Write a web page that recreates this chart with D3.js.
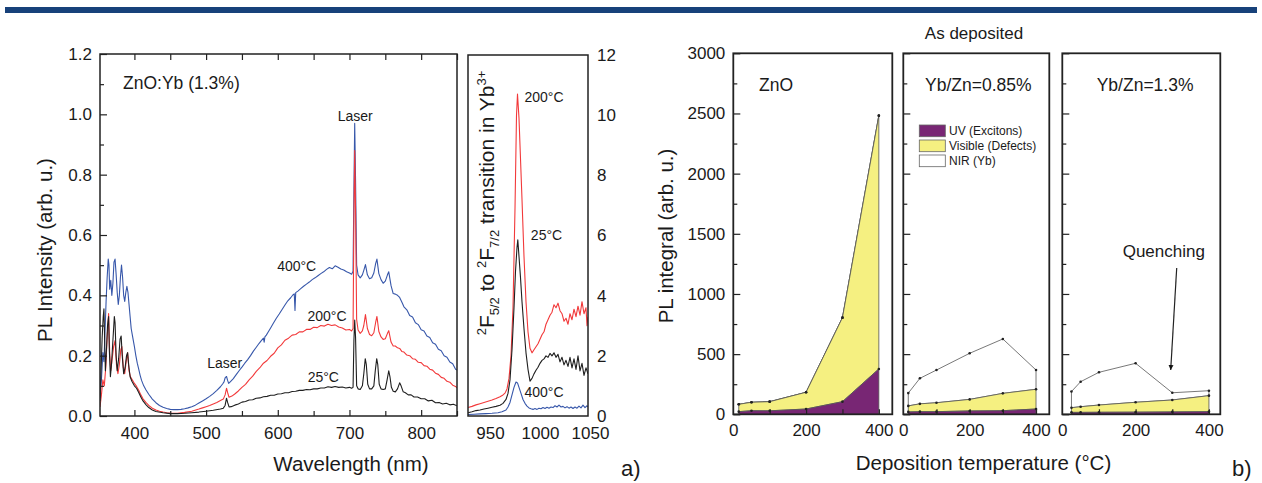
<!DOCTYPE html>
<html>
<head>
<meta charset="utf-8">
<script src="https://cdn.jsdelivr.net/npm/d3@7"></script>
<style>
  body { margin: 0; background: #fff; }
  svg { display: block; font-family: "Liberation Sans", Arial, sans-serif; }
</style>
</head>
<body>
<svg id="chart" width="1262" height="483"></svg>
<script>
// ---------- Panel a: PL spectra (wavelength nm, intensity arb. u.) ----------
const spec400 = [[352,0.06],[354,0.12],[356,0.21],[357.5,0.18],[359,0.28],[360.5,0.38],[362,0.46],[363.5,0.52],[364.5,0.5],[365.5,0.42],[367,0.45],[368.5,0.4],[370,0.44],[371.5,0.51],[373,0.52],[374.5,0.47],[376,0.41],[377.5,0.37],[379,0.4],[380.5,0.46],[382,0.5],[383.5,0.46],[385,0.4],[386.5,0.38],[388,0.41],[389.5,0.43],[391,0.41],[392.5,0.37],[394,0.33],[395.5,0.29],[397,0.27],[398.5,0.25],[400,0.23],[402,0.2],[404,0.175],[406,0.155],[408,0.135],[410,0.118],[413,0.1],[416,0.087],[420,0.072],[425,0.056],[430,0.044],[435,0.035],[440,0.029],[445,0.025],[450,0.022],[455,0.021],[460,0.021],[465,0.022],[470,0.024],[475,0.027],[480,0.031],[485,0.036],[490,0.043],[495,0.05],[500,0.057],[505,0.065],[510,0.074],[515,0.085],[520,0.097],[523,0.106],[525,0.113],[526.5,0.126],[528.5,0.131],[530,0.118],[531.5,0.108],[534,0.114],[538,0.124],[542,0.137],[546,0.15],[550,0.162],[554,0.175],[558,0.187],[562,0.2],[566,0.215],[570,0.228],[574,0.241],[577,0.25],[580,0.258],[581,0.245],[582,0.262],[584,0.268],[586,0.276],[590,0.292],[594,0.308],[598,0.324],[602,0.338],[606,0.353],[610,0.368],[614,0.382],[618,0.392],[621,0.401],[623,0.405],[624,0.35],[625,0.409],[628,0.414],[632,0.422],[636,0.43],[640,0.437],[644,0.444],[648,0.452],[652,0.458],[656,0.465],[660,0.472],[664,0.478],[668,0.486],[672,0.492],[676,0.488],[680,0.498],[684,0.493],[688,0.487],[692,0.484],[696,0.478],[700,0.474],[703,0.47],[705,0.48],[706.2,0.75],[707.3,0.97],[708.5,0.78],[710,0.5],[712,0.468],[715,0.458],[718,0.468],[720,0.483],[722.3,0.502],[725,0.468],[728,0.455],[731,0.458],[734,0.474],[736.5,0.505],[738.3,0.52],[741,0.472],[744,0.452],[747,0.44],[750,0.447],[753,0.468],[754.8,0.478],[758,0.432],[761,0.406],[764,0.404],[767,0.4],[770,0.393],[773,0.378],[776,0.362],[780,0.352],[784,0.333],[788,0.328],[792,0.309],[796,0.303],[800,0.286],[804,0.282],[808,0.265],[812,0.26],[816,0.243],[820,0.238],[824,0.221],[828,0.216],[832,0.2],[836,0.195],[840,0.179],[844,0.173],[848,0.155],[850,0.152]];

const spec200 = [[352,0.03],[354,0.07],[356,0.12],[358,0.1],[360,0.16],[362,0.26],[364,0.34],[365.5,0.21],[367,0.15],[369,0.19],[371,0.23],[373,0.25],[375,0.17],[377,0.14],[379,0.17],[381,0.22],[382.5,0.23],[384.5,0.16],[386.5,0.14],[388.5,0.18],[390.5,0.21],[392.5,0.15],[394.5,0.13],[397,0.12],[400,0.108],[403,0.098],[406,0.085],[409,0.07],[412,0.057],[416,0.045],[420,0.035],[425,0.026],[430,0.02],[435,0.016],[440,0.013],[445,0.011],[450,0.01],[460,0.009],[470,0.012],[480,0.016],[490,0.023],[495,0.027],[500,0.031],[505,0.035],[510,0.04],[515,0.045],[520,0.051],[524,0.056],[526.5,0.07],[528.5,0.092],[530,0.078],[532,0.062],[536,0.066],[540,0.073],[545,0.083],[550,0.095],[555,0.105],[560,0.12],[565,0.132],[570,0.148],[575,0.16],[580,0.175],[585,0.184],[590,0.198],[595,0.208],[600,0.226],[605,0.236],[610,0.251],[615,0.258],[620,0.268],[625,0.27],[630,0.279],[635,0.279],[640,0.287],[645,0.287],[650,0.294],[655,0.293],[660,0.3],[665,0.298],[670,0.304],[675,0.3],[680,0.302],[685,0.295],[690,0.292],[695,0.285],[700,0.287],[703,0.282],[705,0.29],[706.2,0.65],[707.3,0.88],[708.5,0.68],[710,0.32],[712,0.285],[715,0.274],[718,0.282],[720,0.3],[722.3,0.336],[725,0.29],[728,0.27],[731,0.266],[734,0.276],[736.5,0.31],[738.3,0.33],[741,0.28],[744,0.262],[747,0.254],[750,0.256],[753,0.274],[754.8,0.283],[758,0.245],[761,0.232],[764,0.232],[767,0.226],[770,0.224],[773,0.214],[776,0.212],[780,0.202],[784,0.2],[788,0.19],[792,0.188],[796,0.178],[800,0.177],[804,0.167],[808,0.165],[812,0.155],[816,0.152],[820,0.142],[824,0.138],[828,0.128],[832,0.125],[836,0.115],[840,0.112],[844,0.102],[848,0.098],[850,0.093]];

const spec25 = [[352,0.05],[353.5,0.15],[355,0.26],[356.5,0.33],[357.5,0.355],[358.5,0.25],[359.5,0.15],[361,0.22],[362.5,0.3],[364,0.33],[365,0.22],[366.5,0.13],[368,0.17],[370,0.25],[372,0.33],[373,0.31],[374.5,0.2],[376,0.15],[378,0.19],[380,0.255],[381.5,0.265],[383,0.2],[385,0.14],[387,0.16],[389,0.2],[390.5,0.21],[392,0.17],[394,0.13],[396.5,0.115],[400,0.1],[403,0.092],[406,0.078],[409,0.063],[412,0.05],[416,0.038],[420,0.028],[425,0.02],[430,0.015],[440,0.011],[450,0.008],[460,0.008],[470,0.009],[480,0.011],[490,0.013],[500,0.016],[510,0.019],[520,0.023],[524,0.026],[526.5,0.035],[528.5,0.059],[530,0.045],[532,0.03],[535,0.031],[540,0.036],[545,0.04],[550,0.046],[555,0.048],[560,0.053],[565,0.054],[570,0.059],[575,0.06],[580,0.064],[585,0.065],[590,0.069],[595,0.069],[600,0.073],[605,0.074],[610,0.077],[615,0.077],[620,0.081],[625,0.082],[630,0.085],[635,0.085],[640,0.088],[645,0.087],[650,0.09],[655,0.09],[660,0.093],[665,0.093],[670,0.097],[675,0.095],[680,0.098],[685,0.095],[690,0.096],[695,0.093],[700,0.095],[703,0.092],[705,0.095],[706.2,0.25],[707.3,0.318],[708.5,0.26],[710,0.1],[712,0.09],[715,0.088],[718,0.1],[720,0.14],[722,0.19],[723.5,0.17],[725.5,0.105],[728,0.09],[731,0.09],[734,0.1],[736,0.15],[738,0.19],[739.5,0.17],[741.5,0.105],[744,0.09],[747,0.088],[750,0.09],[752.5,0.12],[754.8,0.15],[756.5,0.13],[758.5,0.095],[761,0.082],[764,0.08],[767,0.09],[770,0.11],[772,0.1],[775,0.08],[778,0.077],[782,0.07],[786,0.07],[790,0.063],[795,0.063],[800,0.057],[805,0.057],[810,0.05],[815,0.052],[820,0.044],[825,0.045],[830,0.04],[835,0.042],[840,0.037],[845,0.039],[850,0.034]];

// ---------- Panel a, inset: 2F5/2 -> 2F7/2 emission of Yb3+ ----------
const nir200 = [[928,0.28],[932,0.32],[936,0.37],[940,0.41],[944,0.45],[948,0.49],[952,0.53],[956,0.58],[960,0.64],[963,0.7],[965,0.76],[967,0.9],[969,1.25],[971,2.0],[973,3.6],[975,6.9],[976.5,10.0],[977.5,10.7],[979,9.9],[980,9.0],[982,7.2],[984,5.3],[986,3.8],[988,2.8],[990,2.25],[992,2.1],[994,2.2],[996,2.3],[998,2.4],[1000,2.55],[1002,2.7],[1004,2.8],[1006,3.05],[1008,3.2],[1010,3.35],[1012,3.45],[1014,3.7],[1016,3.6],[1018,3.75],[1020,3.5],[1022,3.4],[1024,3.15],[1026,3.25],[1028,3.05],[1030,3.4],[1032,3.2],[1034,3.55],[1036,3.3],[1038,3.65],[1040,3.35],[1042,3.8],[1044,3.4],[1046,3.6],[1047,3.0],[1048,3.3]];
const nir25 = [[928,0.11],[932,0.14],[936,0.18],[940,0.2],[944,0.23],[948,0.26],[952,0.29],[956,0.32],[960,0.36],[963,0.42],[966,0.55],[968,0.75],[970,1.2],[972,2.2],[974,3.6],[975.5,4.8],[977,5.6],[977.8,5.86],[979,5.3],[980.5,4.6],[982,3.8],[984,2.9],[986,2.1],[988,1.55],[990,1.16],[992,1.25],[994,1.4],[996,1.52],[998,1.62],[1000,1.75],[1002,1.85],[1004,1.9],[1006,2.0],[1008,1.95],[1010,2.08],[1012,2.0],[1014,2.1],[1016,1.95],[1018,2.05],[1020,1.8],[1022,1.95],[1024,1.7],[1026,1.85],[1028,1.65],[1030,1.95],[1032,1.6],[1034,1.9],[1036,1.55],[1038,2.0],[1040,1.5],[1042,1.75],[1044,1.35],[1046,1.6],[1048,1.4]];
const nir400 = [[928,0.05],[934,0.06],[940,0.07],[946,0.08],[952,0.09],[958,0.11],[962,0.14],[966,0.2],[968,0.3],[970,0.45],[972,0.7],[974,0.95],[976,1.13],[977.5,1.1],[979,0.95],[981,0.75],[983,0.55],[985,0.42],[987,0.33],[989,0.27],[991,0.24],[993,0.22],[995,0.25],[997,0.22],[999,0.26],[1001,0.24],[1003,0.28],[1005,0.25],[1007,0.29],[1009,0.26],[1011,0.3],[1013,0.28],[1015,0.34],[1017,0.3],[1019,0.36],[1021,0.3],[1023,0.32],[1025,0.27],[1027,0.31],[1029,0.26],[1031,0.3],[1033,0.25],[1035,0.3],[1037,0.26],[1039,0.33],[1041,0.27],[1043,0.36],[1045,0.28],[1047,0.34],[1048,0.3]];

// tick labels, panel a
const wlTicks = [400, 500, 600, 700, 800];
const intensityTicks = [0, 0.2, 0.4, 0.6, 0.8, 1.0, 1.2];
const nirWlTicks = [950, 1000, 1050];
const nirIntensityTicks = [0, 2, 4, 6, 8, 10, 12];

// ---------- Panel b: integrated PL vs deposition temperature ----------
const tempZnO = [15, 50, 100, 200, 300, 400];
const uvZnO   = [22, 30, 29, 44, 105, 377];
const visZnO  = [61, 70, 76, 139, 698, 2105];
const nirZnO  = [0, 0, 0, 0, 0, 0];

const temp085 = [15, 50, 100, 200, 300, 400];
const uv085   = [20, 22, 22, 28, 30, 44];
const vis085  = [50, 65, 74, 96, 144, 164];
const nir085  = [106, 212, 272, 383, 452, 160];

const temp13 = [25, 50, 100, 200, 300, 400];
const uv13   = [16, 16, 17, 18, 20, 22];
const vis13  = [39, 47, 60, 82, 99, 133];
const nir13  = [134, 208, 272, 324, 60, 41];

const integralTicks = [0, 500, 1000, 1500, 2000, 2500, 3000];
const tempTicks = [0, 200, 400];
const legendLabels = ["UV (Excitons)", "Visible (Defects)", "NIR (Yb)"];

// ---------- drawing ----------
const FONT = '"Liberation Sans", Arial, sans-serif';
const INK = "#1a1a1a";
const svg = d3.select("#chart");
const defs = svg.append("defs");

// header rule
svg.append("rect").attr("x", 5).attr("y", 7).attr("width", 1252).attr("height", 6).attr("fill", "#17417a");

function styleAxis(g, size) {
  g.select("path.domain").remove();
  g.selectAll("line").attr("stroke", "#222").attr("stroke-width", 1.2);
  g.selectAll("text").attr("font-size", size || 17).attr("font-family", FONT).attr("fill", INK);
}
function clip(id, x0, y0, x1, y1) {
  defs.append("clipPath").attr("id", id).append("rect")
    .attr("x", x0).attr("y", y0).attr("width", x1 - x0).attr("height", y1 - y0);
}
function label(x, y, txt, size, anchor) {
  return svg.append("text").attr("x", x).attr("y", y).attr("font-size", size)
    .attr("font-family", FONT).attr("fill", INK).attr("text-anchor", anchor || "start").text(txt);
}

// ----- panel a, main spectra -----
const A = { x0: 100, x1: 457, y0: 54, y1: 416 };
const xA = d3.scaleLinear().domain([352, 850]).range([A.x0, A.x1]);
const yA = d3.scaleLinear().domain([0, 1.2]).range([A.y1, A.y0]);
clip("clipA", A.x0, A.y0, A.x1, A.y1);

const lineA = d3.line().x(d => xA(d[0])).y(d => yA(d[1]));
const gA = svg.append("g").attr("clip-path", "url(#clipA)");
[[spec400, "#3757aa"], [spec200, "#f2393a"], [spec25, "#1f1f1f"]].forEach(([s, c]) => {
  gA.append("path").datum(s).attr("d", lineA).attr("fill", "none")
    .attr("stroke", c).attr("stroke-width", 1.1).attr("stroke-linejoin", "round");
});

const minorWl = d3.range(400, 851, 50);
svg.append("g").attr("transform", `translate(0,${A.y1})`)
  .call(d3.axisBottom(xA).tickValues(wlTicks).tickSizeInner(-6).tickSizeOuter(0).tickPadding(10.6))
  .call(g => styleAxis(g));
svg.append("g").attr("transform", `translate(0,${A.y1})`)
  .call(d3.axisBottom(xA).tickValues(minorWl.filter(v => v % 100 !== 0)).tickSizeInner(-5).tickSizeOuter(0).tickFormat(""))
  .call(g => styleAxis(g));
svg.append("g").attr("transform", `translate(0,${A.y0})`)
  .call(d3.axisTop(xA).tickValues(minorWl).tickSizeInner(-6).tickSizeOuter(0).tickFormat(""))
  .call(g => styleAxis(g));
svg.append("g").attr("transform", `translate(${A.x0},0)`)
  .call(d3.axisLeft(yA).tickValues(intensityTicks).tickSizeInner(-7).tickSizeOuter(0).tickPadding(8).tickFormat(d3.format(".1f")))
  .call(g => styleAxis(g));
svg.append("g").attr("transform", `translate(${A.x0},0)`)
  .call(d3.axisLeft(yA).tickValues([0.1, 0.3, 0.5, 0.7, 0.9, 1.1]).tickSizeInner(-4).tickSizeOuter(0).tickFormat(""))
  .call(g => styleAxis(g));
svg.append("rect").attr("x", A.x0).attr("y", A.y0).attr("width", A.x1 - A.x0).attr("height", A.y1 - A.y0)
  .attr("fill", "none").attr("stroke", "#222").attr("stroke-width", 1.5);

label(123, 89, "ZnO:Yb (1.3%)", 17.5);
label(xA(708), 120.5, "Laser", 14, "middle");
label(xA(526), 368, "Laser", 14, "middle");
label(296.7, 270.5, "400°C", 14, "middle");
label(327, 320.5, "200°C", 14, "middle");
label(323.3, 382, "25°C", 14, "middle");
label(351, 471, "Wavelength (nm)", 20.5, "middle");
svg.append("text").attr("transform", "translate(52,250) rotate(-90)")
  .attr("text-anchor", "middle").attr("font-size", 20.5).attr("font-family", FONT).attr("fill", INK)
  .text("PL Intensity (arb. u.)");

// ----- panel a, NIR inset -----
const N = { x0: 468, x1: 588, y0: 55, y1: 416 };
const xN = d3.scaleLinear().domain([928, 1048]).range([N.x0, N.x1]);
const yN = d3.scaleLinear().domain([0, 12]).range([N.y1, N.y0]);
clip("clipN", N.x0, N.y0, N.x1, N.y1);
const lineN = d3.line().x(d => xN(d[0])).y(d => yN(d[1]));
const gN = svg.append("g").attr("clip-path", "url(#clipN)");
[[nir400, "#3757aa"], [nir200, "#f2393a"], [nir25, "#1f1f1f"]].forEach(([s, c]) => {
  gN.append("path").datum(s).attr("d", lineN).attr("fill", "none")
    .attr("stroke", c).attr("stroke-width", 1.1).attr("stroke-linejoin", "round");
});
svg.append("g").attr("transform", `translate(0,${N.y1})`)
  .call(d3.axisBottom(xN).tickValues(nirWlTicks).tickSizeInner(0).tickSizeOuter(0).tickPadding(10.6).tickFormat(d3.format("d")))
  .call(g => styleAxis(g));
svg.append("g").attr("transform", `translate(${N.x1},0)`)
  .call(d3.axisRight(yN).tickValues(nirIntensityTicks).tickSizeInner(0).tickSizeOuter(0).tickPadding(9).tickFormat(d3.format("d")))
  .call(g => styleAxis(g));
svg.append("rect").attr("x", N.x0).attr("y", N.y0).attr("width", N.x1 - N.x0).attr("height", N.y1 - N.y0)
  .attr("fill", "none").attr("stroke", "#222").attr("stroke-width", 1.5);
label(544, 102, "200°C", 14, "middle");
label(546.5, 240, "25°C", 14, "middle");
label(544, 397, "400°C", 14, "middle");

const yl = svg.append("text").attr("transform", "translate(494,203) rotate(-90)")
  .attr("text-anchor", "middle").attr("font-family", FONT).attr("fill", INK).attr("font-size", 21);
[["2", 13, -8], ["F", 21, 8], ["5/2", 13, 5], [" to ", 21, -5], ["2", 13, -8], ["F", 21, 8],
 ["7/2", 13, 5], [" transition in Yb", 21, -5], ["3+", 13, -8]].forEach(([t, fs, dy]) => {
  yl.append("tspan").attr("font-size", fs).attr("dy", dy).text(t);
});

label(621, 476, "a)", 22);

// ----- panel b -----
const B = { y0: 53.3, y1: 414.3 };
const panels = [
  { name: "ZnO", x0: 733.3, x1: 892.3, tMax: 437, t: tempZnO, uv: uvZnO, vis: visZnO, nir: nirZnO, labelled: true },
  { name: "Yb/Zn=0.85%", x0: 903.3, x1: 1049.3, tMax: 440, t: temp085, uv: uv085, vis: vis085, nir: nir085 },
  { name: "Yb/Zn=1.3%", x0: 1062.3, x1: 1220.3, tMax: 431, t: temp13, uv: uv13, vis: vis13, nir: nir13 }
];
const yB = d3.scaleLinear().domain([0, 3000]).range([B.y1, B.y0]);
const layerFill = { uv: "#782674", vis: "#f5f081", nir: "#ffffff" };
const stack = d3.stack().keys(["uv", "vis", "nir"]);

panels.forEach((p, i) => {
  const x = d3.scaleLinear().domain([0, p.tMax]).range([p.x0, p.x1]);
  const rows = p.t.map((t, k) => ({ t, uv: p.uv[k], vis: p.vis[k], nir: p.nir[k] }));
  const layers = stack(rows);
  const area = d3.area().x(d => x(d.data.t)).y0(d => yB(d[0])).y1(d => yB(d[1]));
  const g = svg.append("g");
  layers.slice().reverse().forEach(L => {
    g.append("path").datum(L).attr("d", area).attr("fill", layerFill[L.key])
      .attr("stroke", "#555").attr("stroke-width", 0.8).attr("stroke-linejoin", "round");
  });
  layers.forEach(L => {
    g.selectAll(null).data(L).join("circle")
      .attr("cx", d => x(d.data.t)).attr("cy", d => yB(d[1])).attr("r", 1.3).attr("fill", "#222");
  });

  // axes
  svg.append("g").attr("transform", `translate(${p.x0},0)`)
    .call(d3.axisLeft(yB).tickValues(integralTicks).tickSizeInner(-7).tickSizeOuter(0).tickPadding(8)
      .tickFormat(p.labelled ? d3.format("d") : ""))
    .call(g2 => styleAxis(g2));
  svg.append("g").attr("transform", `translate(${p.x0},0)`)
    .call(d3.axisLeft(yB).tickValues(d3.range(250, 3000, 500)).tickSizeInner(-4).tickSizeOuter(0).tickFormat(""))
    .call(g2 => styleAxis(g2));
  svg.append("g").attr("transform", `translate(0,${B.y1})`)
    .call(d3.axisBottom(x).tickValues([100, 200, 300, 400]).tickSizeInner(-5).tickSizeOuter(0).tickFormat(""))
    .call(g2 => styleAxis(g2));
  svg.append("g").attr("transform", `translate(0,${B.y1})`)
    .call(d3.axisBottom(x).tickValues(tempTicks).tickSizeInner(0).tickSizeOuter(0).tickPadding(9.6).tickFormat(d3.format("d")))
    .call(g2 => styleAxis(g2));

  svg.append("rect").attr("x", p.x0).attr("y", B.y0).attr("width", p.x1 - p.x0).attr("height", B.y1 - B.y0)
    .attr("fill", "none").attr("stroke", "#222").attr("stroke-width", 1.8);
});

label(759, 90.7, "ZnO", 17.5);
label(925, 90.7, "Yb/Zn=0.85%", 17.5);
label(1096.7, 90.7, "Yb/Zn=1.3%", 17.5);
label(974, 38.5, "As deposited", 17, "middle");

// legend
const legend = svg.append("g");
["uv", "vis", "nir"].forEach((k, i) => {
  legend.append("rect").attr("x", 919.3).attr("y", 125 + i * 15).attr("width", 26).attr("height", 11.7)
    .attr("fill", layerFill[k]).attr("stroke", "#666").attr("stroke-width", 0.8);
  legend.append("text").attr("x", 949).attr("y", 135.2 + i * 15).attr("font-size", 12)
    .attr("font-family", FONT).attr("fill", INK).text(legendLabels[i]);
});

// quenching annotation
defs.append("marker").attr("id", "arrowHead").attr("viewBox", "0 0 10 10").attr("refX", 10).attr("refY", 5)
  .attr("markerWidth", 5).attr("markerHeight", 9).attr("markerUnits", "userSpaceOnUse")
  .attr("orient", "auto").append("path").attr("d", "M0,0 L10,5 L0,10 Z").attr("fill", "#111");
svg.append("line").attr("x1", 1176.7).attr("y1", 268).attr("x2", 1170.7).attr("y2", 370)
  .attr("stroke", "#222").attr("stroke-width", 1.2).attr("marker-end", "url(#arrowHead)");
label(1122.7, 257, "Quenching", 17);

label(983.5, 470, "Deposition temperature (°C)", 20.5, "middle");
svg.append("text").attr("transform", "translate(673,236) rotate(-90)")
  .attr("text-anchor", "middle").attr("font-size", 20.5).attr("font-family", FONT).attr("fill", INK)
  .text("PL integral (arb. u.)");
label(1232, 476, "b)", 22);
</script>
</body>
</html>
